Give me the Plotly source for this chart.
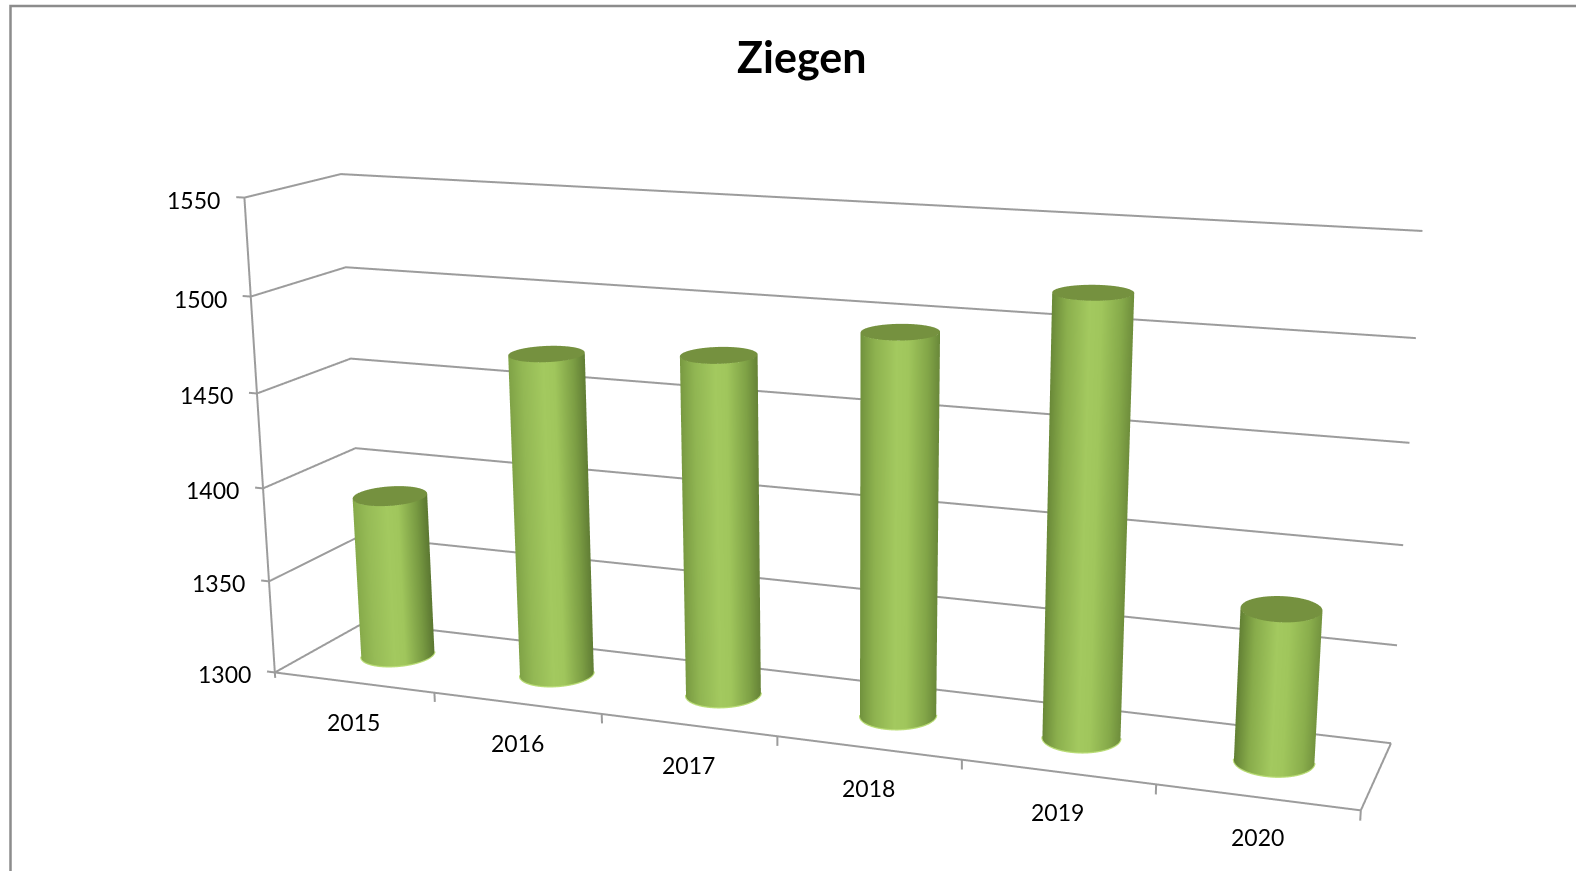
import numpy as np
import plotly.graph_objects as go

# ---- data ----
years = ["2015", "2016", "2017", "2018", "2019", "2020"]
values = [1388, 1471, 1477, 1495, 1520, 1376]
z_ticks = [1300, 1350, 1400, 1450, 1500, 1550]
title_text = "Ziegen"

# ---- view set-up (perspective fitted to the reference) ----
PAGE_W, PAGE_H, PAGE_TOP = 1694, 2115, -523
s = 4.746
ux, uy, uz = 0.4214 * s / 6, 0.0654 * s * 1.05, 0.1857 * s / 250   # scene units per data unit
xr, yr, zr = [-0.2, 6.2], [-0.2, 1.2], [1285, 1565]
eye = dict(x=1.525, y=-4.0178, z=1.087)
center = dict(x=0.0744, y=-0.0158, z=-0.111)
GRID = "#9c9c9c"
TEXT = "#000000"
FONT = "Lato"


def px(xp):
    return xp / PAGE_W


def py(yp):
    return 1 - (yp - PAGE_TOP) / PAGE_H


def mix(a, b, t):
    a, b = np.array(a, float), np.array(b, float)
    c = a + (b - a) * t
    return "rgb(%d,%d,%d)" % tuple(c.round())


fig = go.Figure()


def line3d(xs, ys, zs, width=4, color=GRID):
    fig.add_trace(go.Scatter3d(x=xs, y=ys, z=zs, mode="lines", hoverinfo="skip",
                               showlegend=False, line=dict(color=color, width=width)))


# value grid on left wall and back wall, with outward ticks
for t in z_ticks:
    line3d([-0.05, 0, 0, 6], [0, 0, 1, 1], [t, t, t, t])
# wall front edge
line3d([0, 0], [0, 0], [z_ticks[0], z_ticks[-1]])
# floor front and right edges, with category ticks
line3d([0, 6, 6], [0, 0, 1], [z_ticks[0]] * 3)
for i in range(1, 7):
    line3d([i, i], [0, 0], [z_ticks[0], z_ticks[0] - 5])
line3d([0, 0], [0, 0], [z_ticks[0], z_ticks[0] - 3])

# cylinders
Rx = 0.0140 * s                # radius across, scene units
Ry = 0.0155 * s                # radius in depth, scene units
ycyl = 0.525
CAP = "#75913f"
for i, v in enumerate(values):
    cx = i + 0.5 - 0.015
    sx = (cx - 3) * ux
    sy = (ycyl - 0.5) * uy
    view = np.arctan2(eye["y"] - sy, eye["x"] - sx)
    th = np.linspace(view - np.pi / 2 - 0.03, view + np.pi / 2 + 0.03, 73)
    X = cx + Rx / ux * np.cos(th)
    Y = ycyl + Ry / uy * np.sin(th)
    u = np.clip((np.sin(th - view) + 1) / 2, 0, 1)
    t = i / 5
    scale = [[0, mix((0x86, 0xaa, 0x4a), (0x62, 0x80, 0x34), t)],
             [0.2, mix((0x96, 0xbb, 0x56), (0x88, 0xac, 0x4b), t)],
             [0.47, "#a3c95f"], [0.62, "#a0c65c"],
             [0.86, mix((0x78, 0x9a, 0x42), (0x8a, 0xae, 0x4c), t)],
             [1, mix((0x5c, 0x78, 0x32), (0x74, 0x94, 0x3f), t)]]
    z0 = z_ticks[0]
    xs = np.vstack([X, X])
    ys = np.vstack([Y, Y])
    zs = np.vstack([np.full_like(th, z0), np.full_like(th, v)])
    col = np.vstack([u, u])
    fig.add_trace(go.Surface(x=xs, y=ys, z=zs, surfacecolor=col, colorscale=scale,
                             cmin=0, cmax=1, showscale=False, hoverinfo="skip",
                             lighting=dict(ambient=1, diffuse=0, specular=0, fresnel=0, roughness=1)))
    # thin light rim along the foot of the cylinder
    line3d((cx + 1.01 * (X - cx)).tolist(), (ycyl + 1.01 * (Y - ycyl)).tolist(),
           [z0] * len(th), width=2.5, color="#b9dc76")
    # cap
    t2 = np.linspace(0, 2 * np.pi, 73)
    r2 = np.array([0, 1.0])
    Xc = cx + np.outer(r2, Rx / ux * np.cos(t2))
    Yc = ycyl + np.outer(r2, Ry / uy * np.sin(t2))
    Zc = np.full_like(Xc, v)
    fig.add_trace(go.Surface(x=Xc, y=Yc, z=Zc, surfacecolor=np.zeros_like(Xc),
                             colorscale=[[0, CAP], [1, CAP]], cmin=0, cmax=1,
                             showscale=False, hoverinfo="skip",
                             lighting=dict(ambient=1, diffuse=0, specular=0, fresnel=0, roughness=1)))

annotations = []
for t in z_ticks:
    annotations.append(dict(x=0, y=0, z=t, text=str(t), showarrow=False, xanchor="right",
                            xshift=-22, yshift=-2, font=dict(family=FONT, size=23, color=TEXT)))
for i, yr_lab in enumerate(years):
    annotations.append(dict(x=i + 0.5, y=0, z=z_ticks[0], text=yr_lab, showarrow=False,
                            yshift=-40, font=dict(family=FONT, size=23, color=TEXT)))

hidden = dict(visible=False, showgrid=False, zeroline=False, showticklabels=False,
              showline=False, showbackground=False, showspikes=False, title="")
fig.update_layout(
    width=PAGE_W, height=PAGE_H, autosize=False,
    margin=dict(l=0, r=0, t=0, b=0),
    paper_bgcolor="white", showlegend=False,
    scene=dict(
        domain=dict(x=[0, 1], y=[0, 1]),
        xaxis=dict(range=xr, **hidden), yaxis=dict(range=yr, **hidden), zaxis=dict(range=zr, **hidden),
        aspectmode="manual",
        aspectratio=dict(x=(xr[1] - xr[0]) * ux, y=(yr[1] - yr[0]) * uy, z=(zr[1] - zr[0]) * uz),
        camera=dict(eye=eye, center=center, up=dict(x=0, y=0, z=1),
                    projection=dict(type="perspective")),
        annotations=annotations,
        bgcolor="rgba(0,0,0,0)",
    ),
    annotations=[dict(xref="paper", yref="paper", x=px(801), y=py(57), yanchor="middle",
                      text="<b>%s</b>" % title_text,
                      showarrow=False, font=dict(family=FONT, size=43, color="#000000"))],
    shapes=[dict(type="rect", xref="paper", yref="paper", x0=px(10.5), x1=1, y0=py(900), y1=py(6),
                 line=dict(color="#8c8c8c", width=2.5))],
)

post = """
var gd = document.getElementById('{plot_id}');
gd.style.position = 'absolute'; gd.style.left = '0px'; gd.style.top = '%dpx';
document.documentElement.style.overflow = 'hidden';
document.body.style.overflow = 'hidden'; document.body.style.margin = '0';
""" % PAGE_TOP
fig.write_html("out.html", post_script=post, config=dict(displayModeBar=False))
